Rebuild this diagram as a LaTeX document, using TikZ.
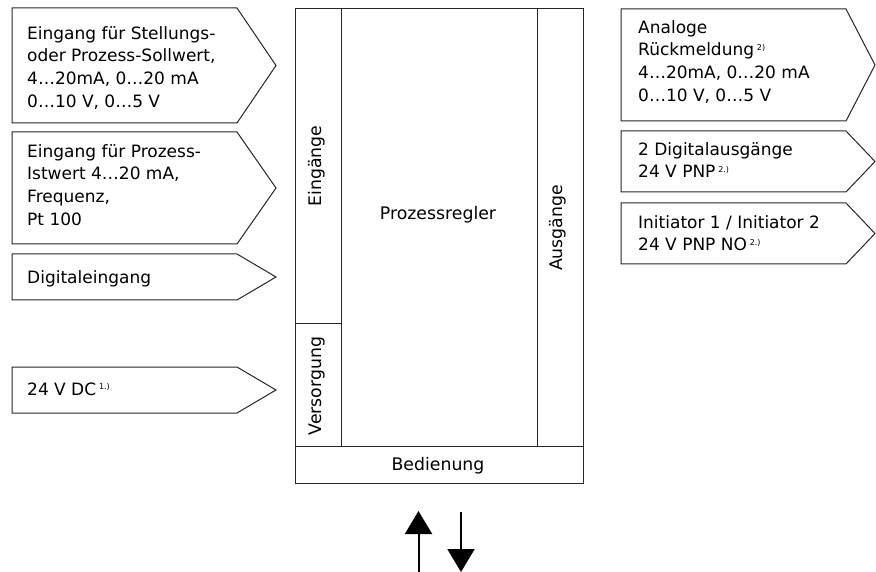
\documentclass[tikz,border=0pt]{standalone}
\usepackage{fontspec}
\setmainfont{DejaVu Sans}
\usetikzlibrary{arrows.meta}
\newcommand{\st}{\rule{0pt}{15pt}}
\newcommand{\sx}[1]{\,\raisebox{5.5pt}{\fontsize{8}{8}\selectfont #1}}
\newcommand{\sigbox}[6]{%
  \coordinate (#1) at (#2,{(#3+#4)/2});
  \draw[boxline] (#2,#3) -- (#5,#3) -- (#6,{(#3+#4)/2}) -- (#5,#4) -- (#2,#4) -- cycle;}
\begin{document}
\begin{tikzpicture}[x=1pt,y=-1pt,
  boxline/.style={line width=1pt, draw=black!85},
  txt/.style={anchor=north west, inner sep=0pt, align=left, font=\fontsize{17}{22.7}\selectfont},
  lbl/.style={inner sep=0pt, font=\fontsize{17.3}{18}\selectfont},
  bigarrow/.style={line width=2pt, -{Triangle[length=23pt,width=27pt]}}]
\useasboundingbox (0,0) rectangle (876,572);
% left input boxes
\sigbox{l1}{12}{8}{123}{237}{276}
\sigbox{l2}{12}{132}{244}{237}{276}
\sigbox{l3}{12}{254}{300}{237}{276}
\sigbox{l4}{12}{367}{413}{237}{276}
\node[txt] (t1) at (27,{39-15}) {\st Eingang für Stellungs-\\oder Prozess-Sollwert,\\4…20mA, 0…20 mA\\0…10 V, 0…5 V};
\node[txt] (t2) at (27,{157-15}) {\st Eingang für Prozess-\\Istwert 4…20 mA,\\Frequenz,\\Pt 100};
\node[txt] (t3) at (27,{283-15}) {\st Digitaleingang};
\node[txt] (t4) at (27,{395-15}) {\st 24 V DC\sx{1.)}};
% right output boxes
\sigbox{r1}{621}{9}{121}{846}{875}
\sigbox{r2}{621}{131}{192}{846}{875}
\sigbox{r3}{621}{203}{264}{846}{875}
\node[txt] (u1) at (638,{33-15}) {\st Analoge\\Rückmeldung\sx{2)}\\4…20mA, 0…20 mA\\0…10 V, 0…5 V};
\node[txt] (u2) at (638,{155-15}) {\st 2 Digitalausgänge\\24 V PNP\sx{2.)}};
\node[txt] (u3) at (638,{228-15}) {\st Initiator 1 / Initiator 2\\24 V PNP NO\sx{2.)}};
% central controller
\draw[boxline] (295,8.5) rectangle (583,483.5);
\draw[boxline] (341,8.5) -- (341,446);
\draw[boxline] (537,8.5) -- (537,446);
\draw[boxline] (295,446) -- (583,446);
\draw[boxline] (295,323.5) -- (341,323.5);
\node[lbl] (proz) at (438,215) {Prozessregler};
\node[lbl] (bed) at (438,466) {Bedienung};
\node[lbl, rotate=90] (ein) at (317,166) {Eingänge};
\node[lbl, rotate=90] (vers) at (317,386) {Versorgung};
\node[lbl, rotate=90] (aus) at (558,228) {Ausgänge};
% operation arrows
\coordinate (ua) at (418.5,572);
\coordinate (ub) at (418.5,511);
\coordinate (da) at (461,512);
\coordinate (db) at (461,572);
\draw[bigarrow] (ua) -- (ub);
\draw[bigarrow] (da) -- (db);
\end{tikzpicture}
\end{document}
